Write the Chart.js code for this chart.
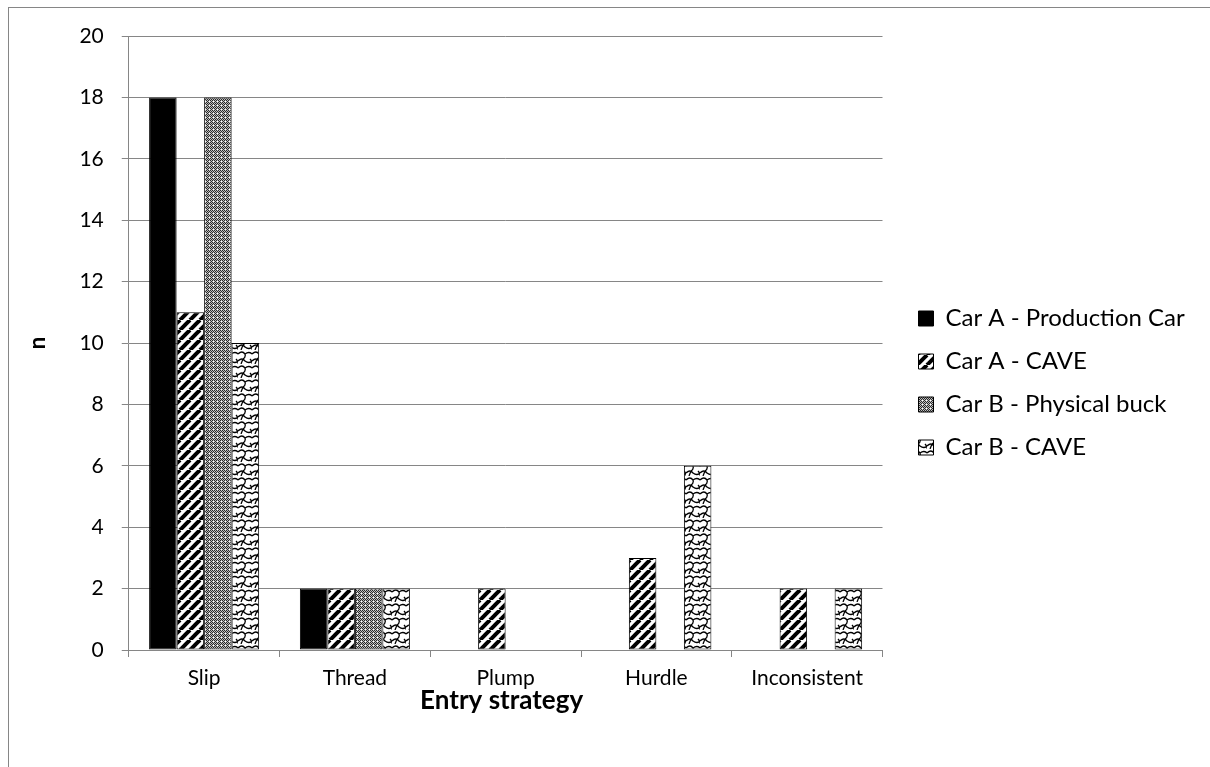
<!DOCTYPE html>
<html>
<head>
<meta charset="utf-8">
<script src="https://cdn.jsdelivr.net/npm/chart.js@4/dist/chart.umd.min.js"></script>
<style>
  html, body { margin: 0; padding: 0; background: #fff; }
  .chart-wrap { position: absolute; left: 0; top: 0; width: 1210px; height: 767px; }
</style>
</head>
<body>
<div class="chart-wrap"><canvas id="entryChart"></canvas></div>
<script>
const categories = ["Slip", "Thread", "Plump", "Hurdle", "Inconsistent"];
const seriesNames = ["Car A - Production Car", "Car A - CAVE", "Car B - Physical buck", "Car B - CAVE"];
const carAProduction = [18, 2, 0, 0, 0];
const carACave = [11, 2, 2, 3, 2];
const carBPhysical = [18, 2, 0, 0, 0];
const carBCave = [10, 2, 0, 6, 2];
const yTicks = [0, 2, 4, 6, 8, 10, 12, 14, 16, 18, 20];
const xTitle = "Entry strategy";

const FONT = "Lato, 'Open Sans', sans-serif";
const GRID = "#868686";
const LEGEND_SHIFT = 17;

function tile(w, h, draw) {
  const c = document.createElement("canvas");
  c.width = w;
  c.height = h;
  const g = c.getContext("2d");
  g.fillStyle = "#fff";
  g.fillRect(0, 0, w, h);
  draw(g);
  return document.createElement("canvas").getContext("2d").createPattern(c, "repeat");
}

// diagonal "/" stripes
const stripes = tile(10, 10, (g) => {
  g.strokeStyle = "#000";
  g.lineWidth = 4;
  for (let o = -10; o <= 10; o += 10) {
    g.beginPath();
    g.moveTo(o, 10);
    g.lineTo(o + 10, 0);
    g.stroke();
  }
});

// fine dotted grey
const dots = tile(4, 4, (g) => {
  const img = g.getImageData(0, 0, 4, 4);
  for (let y = 0; y < 4; y++) {
    for (let x = 0; x < 4; x++) {
      let v = (x + y) % 2 === 0 ? 40 : 190;
      if (x === 1 && y === 1) v = 255;
      const i = (y * 4 + x) * 4;
      img.data[i] = img.data[i + 1] = img.data[i + 2] = v;
      img.data[i + 3] = 255;
    }
  }
  g.putImageData(img, 0, 0);
});

// scaly / wavy pattern
const scales = tile(14, 14, (g) => {
  g.strokeStyle = "#000";
  g.lineWidth = 1.3;
  g.beginPath();
  g.moveTo(0, 4);
  g.quadraticCurveTo(4, 0, 7, 4);
  g.quadraticCurveTo(8, 7, 5, 9);
  g.moveTo(7, 4);
  g.quadraticCurveTo(11, 1, 14, 4);
  g.moveTo(0, 11);
  g.quadraticCurveTo(4, 7, 7, 11);
  g.quadraticCurveTo(11, 14, 14, 11);
  g.moveTo(12, 9);
  g.quadraticCurveTo(15, 12, 14, 14);
  g.moveTo(5, 9);
  g.lineTo(3, 14);
  g.stroke();
});

const frame = {
  id: "frame",
  beforeDraw(chart) {
    const ctx = chart.ctx;
    ctx.save();
    ctx.strokeStyle = GRID;
    ctx.lineWidth = 1;
    ctx.strokeRect(8.5, 7.5, 1300, 1000);
    ctx.restore();
  },
  afterDraw(chart) {
    // x axis title, placed under the tick labels
    const { ctx, chartArea } = chart;
    ctx.save();
    ctx.font = "bold 26px " + FONT;
    ctx.fillStyle = "#000";
    ctx.textAlign = "center";
    ctx.textBaseline = "middle";
    ctx.fillText(xTitle, (chartArea.left + chartArea.right) / 2 - 4, chartArea.bottom + 51);
    ctx.restore();
  },
};

// leave a wider gap between plot and legend
const legendGap = {
  id: "legendGap",
  afterInit(chart) {
    const legend = chart.legend;
    const fit = legend.fit;
    legend.fit = function () {
      fit.call(this);
      this.width += LEGEND_SHIFT;
    };
    const draw = legend.draw;
    legend.draw = function () {
      const c = this.ctx;
      c.save();
      c.translate(LEGEND_SHIFT, 15);
      draw.call(this);
      c.restore();
    };
  },
};

const ctx = document.getElementById("entryChart").getContext("2d");
const fills = ["#000", stripes, dots, scales];
const values = [carAProduction, carACave, carBPhysical, carBCave];

new Chart(ctx, {
  type: "bar",
  data: {
    labels: categories,
    datasets: seriesNames.map((name, i) => ({
      label: name,
      data: values[i],
      backgroundColor: fills[i],
      borderColor: "#000",
      borderWidth: 1,
      borderSkipped: false,
      categoryPercentage: 0.73,
      barPercentage: 1.0,
    })),
  },
  options: {
    responsive: true,
    maintainAspectRatio: false,
    animation: false,
    layout: { padding: { left: 25, top: 36, right: 19, bottom: 67 } },
    scales: {
      y: {
        min: 0,
        max: 20,
        afterBuildTicks: (axis) => {
          axis.ticks = yTicks.map((v) => ({ value: v }));
        },
        grid: { color: GRID, tickLength: 7, lineWidth: 1 },
        border: { color: GRID },
        ticks: { color: "#000", padding: 18, font: { family: FONT, size: 21 } },
        title: {
          display: true,
          text: "n",
          color: "#000",
          font: { family: FONT, size: 22, weight: "bold" },
          padding: { top: 0, bottom: 10 },
        },
      },
      x: {
        grid: { drawOnChartArea: false, color: GRID, tickLength: 7 },
        border: { color: GRID },
        ticks: { color: "#000", padding: 11, font: { family: FONT, size: 21, lineHeight: 1.0 } },
        title: { display: false },
      },
    },
    plugins: {
      legend: {
        position: "right",
        align: "center",
        labels: {
          color: "#000",
          boxWidth: 15,
          boxHeight: 15,
          padding: 19,
          font: { family: FONT, size: 24 },
        },
      },
      tooltip: { enabled: false },
    },
  },
  plugins: [frame, legendGap],
});
</script>
</body>
</html>
